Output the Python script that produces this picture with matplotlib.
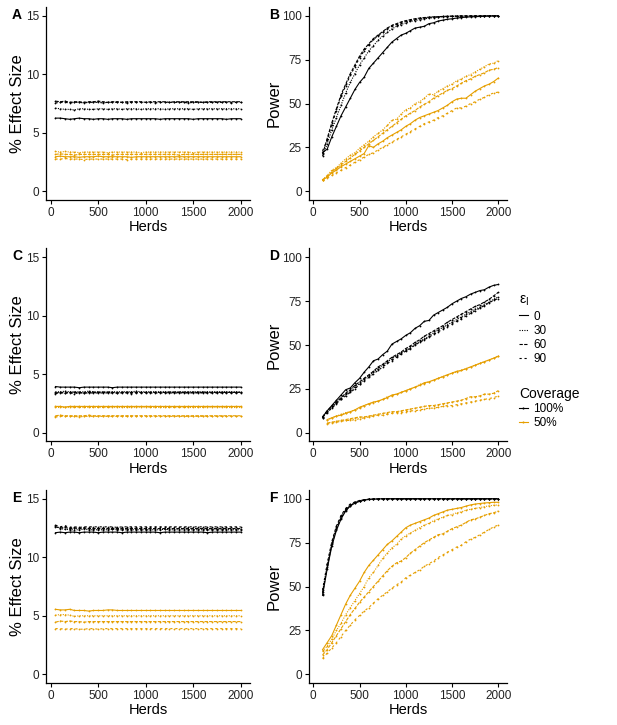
import numpy as np
import matplotlib.pyplot as plt
from matplotlib.lines import Line2D

plt.rcParams['font.family'] = ['Liberation Sans', 'DejaVu Sans']
plt.rcParams['mathtext.fontset'] = 'custom'
plt.rcParams['mathtext.rm'] = 'Liberation Sans'

# x grids
herds_es = np.arange(50, 2001, 50)      # effect size panels
herds_pw = np.arange(100, 2001, 50)     # power panels
herds_d50 = np.arange(150, 2001, 50)    # panel D, 50% coverage

eps_levels = ['0', '30', '60', '90']
coverage_levels = ['100%', '50%']

# ---- panel A: % effect size ----
A_k0 = [6.25, 6.25, 6.2, 6.15, 6.2, 6.25, 6.2, 6.2, 6.15, 6.2, 6.2, 6.15, 6.2, 6.2, 6.2, 6.15, 6.2, 6.2, 6.2, 6.2,
        6.2, 6.2, 6.15, 6.2, 6.2, 6.2, 6.2, 6.2, 6.2, 6.15, 6.2, 6.2, 6.2, 6.2, 6.2, 6.2, 6.15, 6.2, 6.2, 6.2]
A_k30 = [7.1, 7.05, 7.0, 7.0, 6.95, 7.05, 7.05, 7.0, 7.0, 7.05, 7.05, 7.0, 7.05, 7.05, 7.0, 7.05, 7.05, 7.05, 7.0, 7.05,
         7.05, 7.05, 7.05, 7.0, 7.05, 7.05, 7.05, 7.05, 7.05, 7.0, 7.05, 7.05, 7.05, 7.05, 7.05, 7.05, 7.05, 7.05, 7.05, 7.05]
A_k60 = [7.7, 7.65, 7.7, 7.6, 7.65, 7.65, 7.6, 7.65, 7.65, 7.7, 7.65, 7.6, 7.65, 7.65, 7.6, 7.65, 7.65, 7.65, 7.65, 7.6,
         7.65, 7.65, 7.65, 7.65, 7.6, 7.65, 7.65, 7.65, 7.65, 7.65, 7.65, 7.6, 7.65, 7.65, 7.65, 7.65, 7.65, 7.65, 7.65, 7.65]
A_k90 = [7.55, 7.6, 7.6, 7.55, 7.6, 7.6, 7.55, 7.6, 7.6, 7.6, 7.55, 7.6, 7.6, 7.6, 7.6, 7.55, 7.6, 7.6, 7.6, 7.6,
         7.6, 7.55, 7.6, 7.6, 7.6, 7.6, 7.6, 7.6, 7.55, 7.6, 7.6, 7.6, 7.6, 7.6, 7.6, 7.6, 7.6, 7.55, 7.6, 7.6]
A_o0 = [2.95, 3.0, 2.95, 2.95, 2.95, 2.9, 2.95, 2.95, 2.95, 3.0, 2.95, 2.95, 2.95, 2.95, 2.95, 2.95, 2.9, 2.95, 2.95, 2.95,
        2.95, 2.95, 2.95, 2.95, 2.95, 2.95, 2.95, 2.95, 2.95, 2.95, 2.95, 2.95, 2.95, 2.95, 2.95, 2.95, 2.95, 2.95, 2.95, 2.95]
A_o30 = [3.4, 3.35, 3.4, 3.35, 3.35, 3.3, 3.35, 3.35, 3.35, 3.35, 3.35, 3.3, 3.35, 3.35, 3.35, 3.35, 3.35, 3.35, 3.3, 3.35,
         3.35, 3.35, 3.35, 3.35, 3.35, 3.35, 3.35, 3.35, 3.35, 3.3, 3.35, 3.35, 3.35, 3.35, 3.35, 3.35, 3.35, 3.35, 3.35, 3.35]
A_o60 = [3.15, 3.2, 3.15, 3.15, 3.1, 3.15, 3.15, 3.15, 3.15, 3.15, 3.15, 3.15, 3.1, 3.15, 3.15, 3.15, 3.15, 3.15, 3.15, 3.15,
         3.15, 3.15, 3.15, 3.15, 3.15, 3.15, 3.1, 3.15, 3.15, 3.15, 3.15, 3.15, 3.15, 3.15, 3.15, 3.15, 3.15, 3.15, 3.15, 3.15]
A_o90 = [2.75, 2.75, 2.8, 2.75, 2.75, 2.75, 2.7, 2.75, 2.75, 2.75, 2.75, 2.75, 2.75, 2.75, 2.75, 2.7, 2.75, 2.75, 2.75, 2.75,
         2.75, 2.75, 2.75, 2.75, 2.75, 2.75, 2.75, 2.75, 2.75, 2.75, 2.75, 2.75, 2.75, 2.75, 2.75, 2.75, 2.75, 2.75, 2.75, 2.75]

# ---- panel B: power ----
B_k0 = [22, 24, 31, 37, 43, 48, 53, 58, 62, 65, 70, 73, 76, 79, 82, 85, 87, 89, 90, 91.5,
        93, 93.5, 94, 95.5, 96, 97, 97.5, 98, 98.3, 98.7, 99, 99.2, 99.4, 99.5, 99.6, 99.7, 99.8, 99.9, 99.9]
B_k30 = [20, 27, 35, 42, 49, 56, 62, 67, 72, 76, 80, 83, 86, 88.5, 90.5, 92.5, 94, 95, 96, 96.8,
         97.3, 97.8, 98.3, 98.6, 99, 99.2, 99.4, 99.5, 99.6, 99.7, 99.8, 99.8, 99.9, 99.9, 99.9, 100, 100, 100, 100]
B_k60 = [21, 30, 39, 47, 55, 61, 67, 72, 77, 81, 84, 87, 89, 91, 93, 94.5, 95.5, 96.5, 97.2, 97.8,
         98.3, 98.7, 99, 99.2, 99.4, 99.5, 99.6, 99.7, 99.8, 99.8, 99.9, 99.9, 99.9, 100, 100, 100, 100, 100, 100]
B_k90 = [23, 29, 38, 46, 54, 60, 66, 71, 76, 80, 83.5, 86.5, 88.5, 90.5, 92.5, 94, 95, 96, 97, 97.5,
         98, 98.5, 98.8, 99.1, 99.3, 99.5, 99.6, 99.7, 99.8, 99.8, 99.9, 99.9, 99.9, 100, 100, 100, 100, 100, 100]
B_o0 = [6.5, 8, 10.5, 12, 14, 15.5, 17, 18.5, 20, 21.5, 26, 25, 27, 28.5, 30.5, 32, 33.5, 35, 37, 38.5,
        40.5, 42, 43, 44, 45, 46, 47.5, 49, 51, 52.5, 53, 53, 55, 57, 58.5, 60, 61, 62.5, 64.5]
B_o30 = [6.5, 9, 12, 13.5, 16, 18.5, 20.5, 22, 24.5, 26.5, 28.5, 31, 33, 35, 37.5, 40.5, 41, 44, 46.5, 47.5,
         50, 51, 53, 55.5, 55, 57, 58.5, 60, 61, 63, 64, 65.5, 66.5, 68, 69.5, 71, 72.5, 73, 74.5]
B_o60 = [6.5, 8.5, 11, 13, 15, 17, 19, 21, 23, 25, 27, 29, 31, 33, 35, 37, 39, 41, 43, 44.5,
         46, 48, 49.5, 51, 53, 54.5, 56, 57.5, 58.5, 60, 61.5, 63, 64, 65.5, 66.5, 67.5, 69, 69.5, 70.5]
B_o90 = [6.5, 7.5, 9, 10.5, 12, 13.5, 15, 16.5, 18, 19.5, 21, 22, 23.5, 25, 26.5, 28, 29.5, 31, 32.5, 34,
         35.5, 37, 38.5, 39.5, 40.5, 42, 43, 44.5, 46, 47.5, 47.5, 48.5, 50, 51, 52.5, 53.5, 55, 56, 56.5]

# ---- panel C: % effect size ----
C_k0 = [3.95, 3.9, 3.9, 3.9, 3.9, 3.85, 3.9, 3.9, 3.9, 3.9, 3.9, 3.9, 3.85, 3.9, 3.9, 3.9, 3.9, 3.9, 3.9, 3.9,
        3.9, 3.9, 3.9, 3.9, 3.9, 3.9, 3.9, 3.9, 3.9, 3.9, 3.9, 3.9, 3.9, 3.9, 3.9, 3.9, 3.9, 3.9, 3.9, 3.9]
C_k30 = [3.5, 3.5, 3.55, 3.5, 3.5, 3.5, 3.5, 3.55, 3.5, 3.5, 3.5, 3.5, 3.5, 3.5, 3.5, 3.5, 3.5, 3.55, 3.5, 3.5,
         3.5, 3.5, 3.5, 3.5, 3.5, 3.5, 3.5, 3.5, 3.5, 3.5, 3.5, 3.5, 3.5, 3.5, 3.5, 3.5, 3.5, 3.5, 3.5, 3.5]
C_k60 = [3.4, 3.45, 3.4, 3.45, 3.45, 3.45, 3.4, 3.45, 3.45, 3.45, 3.45, 3.45, 3.45, 3.4, 3.45, 3.45, 3.45, 3.45, 3.45, 3.45,
         3.45, 3.45, 3.45, 3.45, 3.45, 3.45, 3.45, 3.45, 3.45, 3.45, 3.45, 3.45, 3.45, 3.45, 3.45, 3.45, 3.45, 3.45, 3.45, 3.45]
C_k90 = [3.35, 3.4, 3.4, 3.4, 3.35, 3.4, 3.4, 3.4, 3.4, 3.4, 3.4, 3.4, 3.4, 3.4, 3.4, 3.4, 3.35, 3.4, 3.4, 3.4,
         3.4, 3.4, 3.4, 3.4, 3.4, 3.4, 3.4, 3.4, 3.4, 3.4, 3.4, 3.4, 3.4, 3.4, 3.4, 3.4, 3.4, 3.4, 3.4, 3.4]
C_o0 = [2.25, 2.25, 2.2, 2.25, 2.25, 2.25, 2.25, 2.25, 2.25, 2.25, 2.25, 2.25, 2.25, 2.25, 2.25, 2.25, 2.25, 2.25, 2.25, 2.25,
        2.25, 2.25, 2.25, 2.25, 2.25, 2.25, 2.25, 2.25, 2.25, 2.25, 2.25, 2.25, 2.25, 2.25, 2.25, 2.25, 2.25, 2.25, 2.25, 2.25]
C_o30 = [2.2, 2.2, 2.2, 2.2, 2.2, 2.2, 2.2, 2.2, 2.2, 2.2, 2.2, 2.2, 2.2, 2.2, 2.2, 2.2, 2.2, 2.2, 2.2, 2.2,
         2.2, 2.2, 2.2, 2.2, 2.2, 2.2, 2.2, 2.2, 2.2, 2.2, 2.2, 2.2, 2.2, 2.2, 2.2, 2.2, 2.2, 2.2, 2.2, 2.2]
C_o60 = [1.45, 1.5, 1.45, 1.45, 1.45, 1.45, 1.45, 1.5, 1.45, 1.45, 1.45, 1.45, 1.45, 1.45, 1.45, 1.45, 1.45, 1.45, 1.45, 1.45,
         1.45, 1.45, 1.45, 1.45, 1.45, 1.45, 1.45, 1.45, 1.45, 1.45, 1.45, 1.45, 1.45, 1.45, 1.45, 1.45, 1.45, 1.45, 1.45, 1.45]
C_o90 = [1.35, 1.4, 1.4, 1.4, 1.4, 1.35, 1.4, 1.4, 1.4, 1.4, 1.4, 1.4, 1.4, 1.4, 1.4, 1.4, 1.4, 1.4, 1.4, 1.4,
         1.4, 1.4, 1.4, 1.4, 1.4, 1.4, 1.4, 1.4, 1.4, 1.4, 1.4, 1.4, 1.4, 1.4, 1.4, 1.4, 1.4, 1.4, 1.4, 1.4]

# ---- panel D: power ----
D_k0 = [9, 12.5, 15.5, 18.5, 21.5, 24.5, 25.5, 28.5, 31, 34.5, 37.5, 41, 42, 44.5, 46.5, 50.5, 52, 53.5, 55.5, 57,
        59.5, 61, 63.5, 64, 67, 68.5, 70, 71.5, 73.5, 75, 76.5, 77.5, 79, 80, 81, 81.5, 83, 84, 84.5]
D_k30 = [8.5, 12, 14.5, 17, 19.5, 22, 23.5, 26, 28, 30.5, 32.5, 34.5, 36.5, 38.5, 40.5, 42, 44, 45.5, 47, 48.5,
         50.5, 52, 53.5, 55, 57, 58.5, 60, 61.5, 63, 64.5, 66, 67.5, 69, 70.5, 71.5, 73, 74.5, 76, 77.5]
D_k60 = [9, 12.5, 15, 17.5, 20, 22.5, 24.5, 27, 29, 31, 33, 35, 37.5, 39, 41, 43, 44.5, 46, 48, 49.5,
         51.5, 53, 55, 56.5, 58, 59.5, 61, 63, 64.5, 66, 67.5, 69, 70.5, 72, 73, 74.5, 76, 78, 80]
D_k90 = [8.5, 11.5, 14, 16.5, 19, 21, 23, 25, 27.5, 29.5, 31.5, 33.5, 35.5, 37.5, 39.5, 41, 43, 45, 46.5, 48,
         50, 51.5, 53, 54.5, 56, 57.5, 59, 60.5, 62, 63.5, 65, 66.5, 68, 69.5, 71, 72.5, 74, 75.5, 76.5]
D_o0 = [7.5, 8.5, 9.5, 10, 11, 12, 13, 14.5, 15.5, 16.5, 17.5, 18, 19, 20, 21.5, 22, 23, 24, 25, 26,
        27, 28.5, 29, 30, 31, 32, 33, 34, 35, 35.5, 36.5, 37.5, 38.5, 39.5, 40.5, 41.5, 42.5, 43.5]
D_o30 = [7, 8.5, 9.5, 10.5, 11.5, 12, 13, 14, 15.5, 16.5, 17, 18, 19, 20.5, 21, 22, 23, 24, 25, 26,
         27.5, 28, 29, 30, 31, 32, 33, 34, 34.5, 35.5, 36.5, 37.5, 38.5, 39.5, 40.5, 41.5, 42.5, 44]
D_o60 = [5.5, 6, 6.5, 7, 7.5, 8, 8.5, 9, 9, 9.5, 10, 10.5, 11, 11.5, 12, 12, 12.5, 13, 13.5, 14,
         14.5, 15, 15.5, 15.5, 16, 16.5, 17, 17.5, 18, 18.5, 19.5, 20.5, 20.5, 21, 22, 22, 22.5, 24]
D_o90 = [5, 5.5, 6, 6.5, 7, 7, 7.5, 8, 8.5, 9, 9.5, 10, 10, 10.5, 11, 11.5, 11.5, 12, 12.5, 12.5,
         13, 13.5, 14, 14, 14.5, 15, 15.5, 15.5, 16, 16.5, 17, 17.5, 18, 18.5, 19, 19.5, 20, 21]

# ---- panel E: % effect size ----
E_k0 = [12.1, 12.15, 12.1, 12.15, 12.15, 12.1, 12.15, 12.15, 12.15, 12.1, 12.15, 12.15, 12.15, 12.15, 12.1, 12.15, 12.15, 12.15, 12.15, 12.15,
        12.15, 12.15, 12.1, 12.15, 12.15, 12.15, 12.15, 12.15, 12.15, 12.15, 12.15, 12.15, 12.1, 12.15, 12.15, 12.15, 12.15, 12.15, 12.15, 12.15]
E_k30 = [12.7, 12.45, 12.4, 12.35, 12.35, 12.35, 12.4, 12.35, 12.35, 12.35, 12.35, 12.35, 12.4, 12.35, 12.35, 12.35, 12.35, 12.35, 12.35, 12.35,
         12.35, 12.35, 12.35, 12.4, 12.35, 12.35, 12.35, 12.35, 12.35, 12.35, 12.35, 12.35, 12.35, 12.35, 12.35, 12.35, 12.35, 12.35, 12.35, 12.35]
E_k60 = [12.6, 12.5, 12.55, 12.45, 12.5, 12.45, 12.5, 12.45, 12.45, 12.45, 12.45, 12.45, 12.45, 12.45, 12.45, 12.45, 12.45, 12.45, 12.45, 12.45,
         12.45, 12.45, 12.45, 12.45, 12.45, 12.45, 12.45, 12.45, 12.45, 12.45, 12.45, 12.45, 12.45, 12.45, 12.45, 12.45, 12.45, 12.45, 12.45, 12.45]
E_k90 = [12.75, 12.6, 12.7, 12.55, 12.6, 12.55, 12.6, 12.6, 12.6, 12.6, 12.6, 12.6, 12.6, 12.55, 12.6, 12.6, 12.6, 12.6, 12.6, 12.6,
         12.6, 12.6, 12.6, 12.6, 12.6, 12.6, 12.6, 12.6, 12.6, 12.6, 12.6, 12.6, 12.6, 12.6, 12.6, 12.6, 12.6, 12.6, 12.6, 12.6]
E_o0 = [5.55, 5.5, 5.5, 5.55, 5.45, 5.45, 5.45, 5.4, 5.45, 5.45, 5.45, 5.5, 5.5, 5.45, 5.45, 5.45, 5.45, 5.45, 5.45, 5.45,
        5.45, 5.45, 5.45, 5.45, 5.45, 5.45, 5.45, 5.45, 5.45, 5.45, 5.45, 5.45, 5.45, 5.45, 5.45, 5.45, 5.45, 5.45, 5.45, 5.45]
E_o30 = [5.05, 5.1, 5.1, 5.05, 4.95, 5.0, 5.0, 5.0, 5.0, 5.0, 5.0, 5.0, 5.0, 5.0, 5.0, 5.0, 5.0, 5.0, 5.0, 5.0,
         5.0, 5.0, 5.0, 5.0, 5.0, 5.0, 5.0, 5.0, 5.0, 5.0, 5.0, 5.0, 5.0, 5.0, 5.0, 5.0, 5.0, 5.0, 5.0, 5.0]
E_o60 = [4.45, 4.55, 4.5, 4.55, 4.5, 4.5, 4.45, 4.5, 4.5, 4.5, 4.5, 4.5, 4.5, 4.5, 4.5, 4.5, 4.5, 4.5, 4.5, 4.5,
         4.5, 4.5, 4.5, 4.5, 4.5, 4.5, 4.5, 4.5, 4.5, 4.5, 4.5, 4.5, 4.5, 4.5, 4.5, 4.5, 4.5, 4.5, 4.5, 4.5]
E_o90 = [3.9, 3.9, 3.85, 3.9, 3.9, 3.85, 3.85, 3.9, 3.9, 3.85, 3.9, 3.9, 3.9, 3.9, 3.9, 3.9, 3.9, 3.9, 3.9, 3.9,
         3.9, 3.9, 3.9, 3.9, 3.9, 3.9, 3.9, 3.9, 3.9, 3.9, 3.9, 3.9, 3.9, 3.9, 3.9, 3.9, 3.9, 3.9, 3.9, 3.9]

# ---- panel F: power ----
F_k0 = [45, 60, 73, 82, 88.5, 93, 96, 97.5, 98.5, 99.2, 99.6, 99.8, 99.9, 100, 100, 100, 100, 100, 100, 100,
        100, 100, 100, 100, 100, 100, 100, 100, 100, 100, 100, 100, 100, 100, 100, 100, 100, 100, 100]
F_k30 = [47, 62, 75, 84, 90, 94, 96.5, 98, 99, 99.5, 99.7, 99.9, 99.9, 100, 100, 100, 100, 100, 100, 100,
         100, 100, 100, 100, 100, 100, 100, 100, 100, 100, 100, 100, 100, 100, 100, 100, 100, 100, 100]
F_k60 = [46, 61, 74, 83, 89, 93.5, 96, 97.8, 98.8, 99.4, 99.7, 99.8, 99.9, 100, 100, 100, 100, 100, 100, 100,
         100, 100, 100, 100, 100, 100, 100, 100, 100, 100, 100, 100, 100, 100, 100, 100, 100, 100, 100]
F_k90 = [48, 63, 75.5, 84.5, 90.5, 94.5, 97, 98.2, 99, 99.5, 99.8, 99.9, 100, 100, 100, 100, 100, 100, 100, 100,
         100, 100, 100, 100, 100, 100, 100, 100, 100, 100, 100, 100, 100, 100, 100, 100, 100, 100, 100]
F_o0 = [14, 18, 22, 28, 34, 40, 45, 49, 53, 58, 62, 65, 68, 71, 74, 76, 78.5, 81, 83.5, 85,
        86, 87, 88, 89, 90.5, 91.5, 92.5, 93.5, 94, 94.5, 95, 95.8, 96.5, 97, 97.3, 97.6, 97.8, 98, 98]
F_o30 = [13, 16, 20, 25, 29, 34, 38, 42, 46, 50, 55, 58, 62, 66, 69, 72, 74, 77, 79, 80.5,
         82, 83.5, 85, 86, 87.5, 88.5, 89.5, 90.5, 91, 92, 92.5, 93.5, 94, 94.5, 95, 95.5, 96, 96.3, 96.5]
F_o60 = [11, 14, 18, 22, 26, 30, 34, 37.5, 41, 44, 47, 50, 53, 56, 59, 61.5, 63.5, 64.5, 66.5, 69,
         71, 73, 75, 76.5, 78, 79.5, 80, 81.5, 83, 84, 85, 86.5, 88, 88.5, 89.5, 90.5, 91.5, 92, 93]
F_o90 = [9, 12, 15, 18, 21.5, 25, 28, 31, 33.5, 36, 38, 40.5, 43, 45, 47, 49, 51, 52.5, 55, 56.5,
         58, 59.5, 61.5, 63, 64.5, 66.5, 68, 69.5, 71, 72.5, 73.5, 75.5, 77, 78, 79.5, 81, 82.5, 84, 85]

colors = {'100%': '#000000', '50%': '#E69F00'}
dashes = {'0': '-', '30': (0, (1, 1.2)), '60': (0, (3, 1.2)), '90': (0, (2, 2.5))}

panels = [
    ('A', 'es', [(herds_es, A_k0, '100%', '0'), (herds_es, A_k30, '100%', '30'),
                 (herds_es, A_k60, '100%', '60'), (herds_es, A_k90, '100%', '90'),
                 (herds_es, A_o0, '50%', '0'), (herds_es, A_o30, '50%', '30'),
                 (herds_es, A_o60, '50%', '60'), (herds_es, A_o90, '50%', '90')]),
    ('B', 'pw', [(herds_pw, B_k0, '100%', '0'), (herds_pw, B_k30, '100%', '30'),
                 (herds_pw, B_k60, '100%', '60'), (herds_pw, B_k90, '100%', '90'),
                 (herds_pw, B_o0, '50%', '0'), (herds_pw, B_o30, '50%', '30'),
                 (herds_pw, B_o60, '50%', '60'), (herds_pw, B_o90, '50%', '90')]),
    ('C', 'es', [(herds_es, C_k0, '100%', '0'), (herds_es, C_k30, '100%', '30'),
                 (herds_es, C_k60, '100%', '60'), (herds_es, C_k90, '100%', '90'),
                 (herds_es, C_o0, '50%', '0'), (herds_es, C_o30, '50%', '30'),
                 (herds_es, C_o60, '50%', '60'), (herds_es, C_o90, '50%', '90')]),
    ('D', 'pw', [(herds_pw, D_k0, '100%', '0'), (herds_pw, D_k30, '100%', '30'),
                 (herds_pw, D_k60, '100%', '60'), (herds_pw, D_k90, '100%', '90'),
                 (herds_d50, D_o0, '50%', '0'), (herds_d50, D_o30, '50%', '30'),
                 (herds_d50, D_o60, '50%', '60'), (herds_d50, D_o90, '50%', '90')]),
    ('E', 'es', [(herds_es, E_k0, '100%', '0'), (herds_es, E_k30, '100%', '30'),
                 (herds_es, E_k60, '100%', '60'), (herds_es, E_k90, '100%', '90'),
                 (herds_es, E_o0, '50%', '0'), (herds_es, E_o30, '50%', '30'),
                 (herds_es, E_o60, '50%', '60'), (herds_es, E_o90, '50%', '90')]),
    ('F', 'pw', [(herds_pw, F_k0, '100%', '0'), (herds_pw, F_k30, '100%', '30'),
                 (herds_pw, F_k60, '100%', '60'), (herds_pw, F_k90, '100%', '90'),
                 (herds_pw, F_o0, '50%', '0'), (herds_pw, F_o30, '50%', '30'),
                 (herds_pw, F_o60, '50%', '60'), (herds_pw, F_o90, '50%', '90')]),
]

W, H = 617, 725
fig = plt.figure(figsize=(W / 100, H / 100), dpi=100)

# axes boxes in pixels: left, top, width, height
col_x = {'es': (46.2, 203.8), 'pw': (308.9, 198.4)}
row_top = [7, 248.5, 490]
ax_h = 193

for i, (letter, kind, series) in enumerate(panels):
    row = i // 2
    left, width = col_x[kind]
    top = row_top[row]
    ax = fig.add_axes([left / W, 1 - (top + ax_h) / H, width / W, ax_h / H])
    for x, y, cov, eps in series:
        ax.plot(x, y, color=colors[cov], ls=dashes[eps], lw=0.8,
                marker='o', ms=1.3, mew=0)
    ax.set_xlim(-47.5, 2097.5)
    ax.set_xticks([0, 500, 1000, 1500, 2000])
    if kind == 'es':
        ax.set_ylim(-0.75, 15.75)
        ax.set_yticks([0, 5, 10, 15])
        ax.set_ylabel('% Effect Size', fontsize=12, labelpad=0.5)
    else:
        ax.set_ylim(-5, 105)
        ax.set_yticks([0, 25, 50, 75, 100])
        ax.set_ylabel('Power', fontsize=12, labelpad=0.5)
    ax.set_xlabel('Herds', fontsize=10.5, labelpad=1)
    for s in ['top', 'right']:
        ax.spines[s].set_visible(False)
    for s in ['left', 'bottom']:
        ax.spines[s].set_linewidth(0.9)
    ax.tick_params(length=3, width=0.8, labelsize=8.5, labelcolor='#222222', pad=2)
    lab_x = 12 if kind == 'es' else 269
    fig.text(lab_x / W, 1 - (top + 1) / H, letter, fontsize=10, fontweight='bold',
             ha='left', va='top')

# legends
eps_handles = [Line2D([], [], color='black', ls=dashes[e], lw=0.8) for e in eps_levels]
leg1 = fig.legend(eps_handles, eps_levels, title='ε$_\\mathregular{I}$', loc='upper left',
                  bbox_to_anchor=(519 / W, 1 - 293 / H), frameon=False, fontsize=8.5,
                  title_fontsize=10, handlelength=0.75, handletextpad=0.45,
                  labelspacing=0.18, borderpad=0, borderaxespad=0, alignment='left')
cov_handles = [Line2D([], [], color=colors[c], lw=0.8, marker='o', ms=1.5, mew=0)
               for c in coverage_levels]
leg2 = fig.legend(cov_handles, coverage_levels, title='Coverage', loc='upper left',
                  bbox_to_anchor=(519 / W, 1 - 387 / H), frameon=False, fontsize=8.5,
                  title_fontsize=10, handlelength=0.75, handletextpad=0.45,
                  labelspacing=0.18, borderpad=0, borderaxespad=0, alignment='left')

fig.savefig('out.png', dpi=100)
